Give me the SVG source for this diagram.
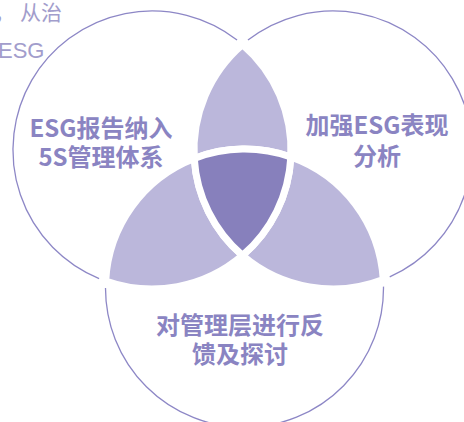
<svg xmlns="http://www.w3.org/2000/svg" width="464" height="422" viewBox="0 0 464 422">
  <style>
    .outline { fill: none; stroke: #8d87c6; stroke-width: 1.3; }
    .lens { fill: #bbb7db; stroke: #ffffff; stroke-width: 7; stroke-linejoin: round; }
    .core { fill: #8780bc; stroke: #ffffff; stroke-width: 7; stroke-linejoin: round; }
    .label { font-family: "Noto Sans CJK SC", "Liberation Sans", sans-serif; font-size: 24px; font-weight: bold; fill: #8a84c2; text-anchor: middle; }
    .bg-cjk { font-family: "Noto Sans CJK SC", sans-serif; font-size: 21px; fill: #a29dcc; }
    .bg-latin { font-family: "Liberation Sans", sans-serif; font-size: 22px; fill: #a29dcc; }
  </style>
  <rect width="464" height="422" fill="#ffffff"/>
  <g id="background-text">
    <text class="bg-cjk" y="20"><tspan x="-6">，</tspan><tspan x="20">从治</tspan></text>
    <text class="bg-latin" x="-2" y="58">ESG</text>
  </g>
  <g id="overlaps">
    <path class="lens" d="M 242.5 44.5 A 139 139 0 0 1 290.83 156.95 A 139 139 0 0 0 194.25 158.4 A 139 139 0 0 1 242.5 44.5 Z"/>
    <path class="lens" d="M 105.67 281.05 A 139 139 0 0 0 242.5 255.5 A 139 139 0 0 1 194.25 158.4 A 139 139 0 0 0 105.67 281.05 Z"/>
    <path class="lens" d="M 383.25 279.6 A 139 139 0 0 1 242.5 255.5 A 139 139 0 0 0 290.83 156.95 A 139 139 0 0 1 383.25 279.6 Z"/>
    <path class="core" d="M 290.83 156.95 A 139 139 0 0 0 194.25 158.4 A 139 139 0 0 0 242.5 255.5 A 139 139 0 0 0 290.83 156.95 Z"/>
  </g>
  <g id="node-esg-5s">
    <path class="outline" d="M 237.04 40.05 A 139 139 0 1 0 99.10 278.53"/>
    <text class="label" x="101" y="136.5">ESG报告纳入</text>
    <text class="label" x="101" y="165.5">5S管理体系</text>
  </g>
  <g id="node-esg-analysis">
    <path class="outline" d="M 247.96 40.05 A 139 139 0 1 1 389.73 276.89"/>
    <text class="label" x="377" y="133.5">加强ESG表现</text>
    <text class="label" x="377" y="164.5">分析</text>
  </g>
  <g id="node-feedback">
    <path class="outline" d="M 105.5 288.07 A 139 139 0 1 0 383.49 286.62"/>
    <text class="label" x="240" y="333.5">对管理层进行反</text>
    <text class="label" x="240" y="362.5">馈及探讨</text>
  </g>
</svg>
